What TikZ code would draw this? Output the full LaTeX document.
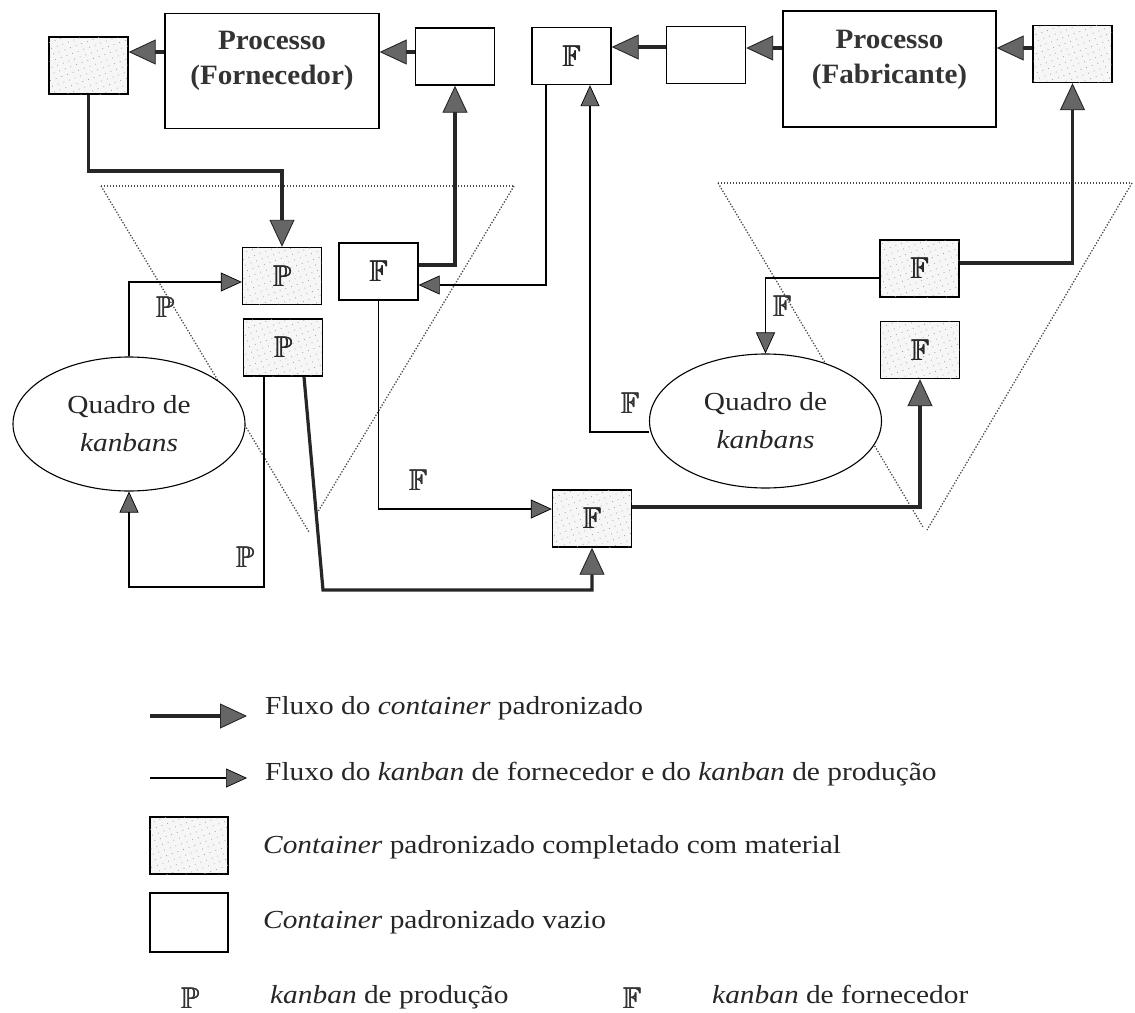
\documentclass[tikz,border=0pt]{standalone}
\usepackage{fontspec}
\usepackage{amssymb}
\usepackage{graphicx}
\setmainfont[FakeStretch=1.13]{Liberation Serif}
\newfontfamily\procfont[FakeStretch=1.04]{Liberation Serif}
\usetikzlibrary{arrows.meta,shapes.geometric,patterns.meta}

% double-struck kanban letters, slightly emboldened by overprinting
\newcommand\dsletter[1]{\scalebox{1.2}{\fontsize{24.88}{26}\selectfont
  \rlap{$\mathbb{#1}$}\kern0.45pt\rlap{$\mathbb{#1}$}\kern-0.2pt$\mathbb{#1}$}}
\newcommand\kP{\dsletter{P}}
\newcommand\kF{\dsletter{F}}

\tikzset{
  cbox/.style={draw=black, line width=1.4pt, fill=white, inner sep=0pt,
               minimum width=79pt, minimum height=57pt, text=black!85},
  shaded/.style={fill=gray!7,
               postaction={pattern={Dots[distance=6pt,radius=0.55pt,angle=20]},
                           pattern color=gray!75}},
  procbox/.style={cbox, minimum width=214pt, minimum height=115pt},
  proctext/.style={align=center, inner sep=0pt, text=black!80,
               font={\procfont\fontsize{28}{35}\selectfont\bfseries}},
  board/.style={ellipse, draw=black, line width=1.1pt, fill=white, inner sep=0pt,
               minimum width=232pt, minimum height=134pt, align=center, text=black!85},
  thickc/.style={line width=3.2pt, draw=black!85,
               -{Triangle[length=27pt,width=25pt,line width=0.9pt,fill=black!60]}},
  thinc/.style={line width=1.3pt, draw=black,
               -{Triangle[length=21pt,width=19pt,line width=0.7pt,fill=black!60]}},
  trap/.style={draw=black!70, line width=1.3pt, dash pattern=on 1.3pt off 1.7pt},
  klabel/.style={inner sep=0pt, text=black!80},
  legtext/.style={anchor=base west, inner sep=0pt, text=black!85}
}

\begin{document}
\begin{tikzpicture}[x=1pt, y=-1pt, font=\fontsize{26}{38}\selectfont]
\useasboundingbox (0,0) rectangle (1135,1012);
\fill[white] (0,0) rectangle (1135,1012);

% dotted funnels around each kanban post
\draw[trap] (101,186) -- (514,186);
\draw[trap] (101,186) -- (309,532);
\draw[trap] (514,186) -- (316,515);
\draw[trap] (718,183) -- (1132,183);
\draw[trap] (718,183) -- (923,527);
\draw[trap] (1132,183) -- (927,530);

% top row: supplier and manufacturer processes
\node[cbox,shaded] (sA) at (88.5,65.5) {};
\node[procbox] (procF) at (272,71) {};
\node[proctext] (procFt) at (272,61) {Processo\\(Fornecedor)};
\node[cbox] (eA) at (455,56.5) {};
\node[cbox] (fTop) at (571.5,56) {\kF};
\node[cbox] (eB) at (706,55) {};
\node[procbox, minimum width=213pt, minimum height=116pt] (procM) at (889.5,69) {};
\node[proctext] (procMt) at (889.5,60) {Processo\\(Fabricante)};
\node[cbox,shaded] (sB) at (1072.5,54) {};

% supplier-side post
\node[cbox,shaded] (pTop) at (282,276) {\kP};
\node[cbox,shaded] (pBot) at (283,347.5) {\kP};
\node[cbox] (fMid) at (378.5,271.5) {\kF};
\node[board] (qL) at (129,424) {Quadro de\\\textit{kanbans}};

% manufacturer-side post
\node[cbox,shaded] (fBot) at (592,518.5) {\kF};
\node[cbox,shaded] (fR1) at (919.5,268.5) {\kF};
\node[cbox,shaded] (fR2) at (920,350) {\kF};
\node[board] (qR) at (765.5,421) {Quadro de\\\textit{kanbans}};

% container flow
\draw[thickc] (procF.west |- 0,52) -- (sA.east |- 0,52);
\draw[thickc] (eA.west |- 0,52) -- (procF.east |- 0,52);
\draw[thickc] (eB.west |- 0,47) -- (fTop.east |- 0,47);
\draw[thickc] (procM.west |- 0,48) -- (eB.east |- 0,48);
\draw[thickc] (sB.west |- 0,48) -- (procM.east |- 0,48);
\draw[thickc] (sA.south) -- (sA.south |- 0,171) -| (pTop.north);
\draw[thickc] (fMid.east |- 0,265) -| (eA.south);
\coordinate (kink) at (323,590);
\draw[thickc] (pBot.south -| 304,0) -- (kink) -| (fBot.south);
\draw[thickc] (fBot.east |- 0,507) -| (fR2.south);
\draw[thickc] (fR1.east |- 0,263) -| (sB.south);

% kanban flow
\draw[thinc] (fTop.south -| 546,0) |- (fMid.east |- 0,285);
\draw[thinc] (qR.west |- 0,432) -| (fTop.south -| 590,0);
\draw[thinc] (qL.north) |- (pTop.west |- 0,282);
\draw[thinc] (pBot.south -| 264,0) |- (qL.south |- 0,587) -- (qL.south);
\draw[thinc] (fMid.south) |- (fBot.west |- 0,509);
\draw[thinc] (fR1.west |- 0,278) -| (qR.north);

% kanban labels along the flows
\node[klabel] (lP1) at (165,307) {\kP};
\node[klabel] (lP2) at (245,557) {\kP};
\node[klabel] (lF1) at (418,480) {\kF};
\node[klabel] (lF2) at (782,306) {\kF};
\node[klabel] (lF3) at (630,403) {\kF};

% legend
\coordinate (la1) at (150,716);
\coordinate (la2) at (247,716);
\draw[thickc] (la1) -- (la2);
\node[legtext] (t1) at (265,714) {Fluxo do \textit{container} padronizado};
\coordinate (lb1) at (150,778);
\coordinate (lb2) at (247,778);
\draw[thinc] (lb1) -- (lb2);
\node[legtext] (t2) at (265,780) {Fluxo do \textit{kanban} de fornecedor e do \textit{kanban} de produção};
\node[cbox,shaded, minimum width=78pt] (lgS) at (189,845.5) {};
\node[legtext] (t3) at (263,853) {\textit{Container} padronizado completado com material};
\node[cbox, minimum width=78pt, minimum height=59pt] (lgE) at (189,922.5) {};
\node[legtext] (t4) at (263,928) {\textit{Container} padronizado vazio};
\node[klabel] (sP) at (190,998) {\kP};
\node[legtext] (t5) at (270,1003) {\textit{kanban} de produção};
\node[klabel] (sF) at (632,998) {\kF};
\node[legtext] (t6) at (712,1003) {\textit{kanban} de fornecedor};
\end{tikzpicture}
\end{document}
